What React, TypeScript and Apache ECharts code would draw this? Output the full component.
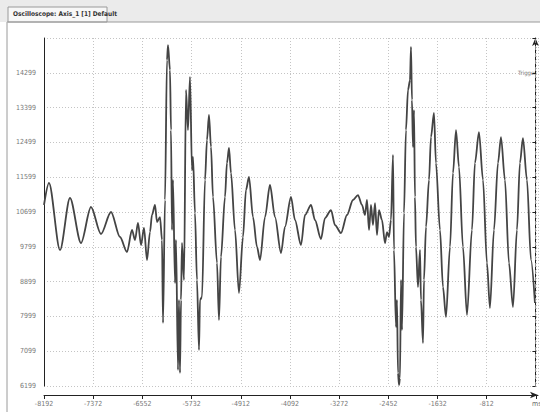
import React, { useEffect, useRef } from "react";
import * as echarts from "echarts";

// ---- data ----
const timeMs = [
  -8192, -8109, -7925, -7759, -7575, -7409, -7242, -7075, -6925, -6809,
  -6725, -6675, -6625, -6575, -6525, -6475, -6425, -6392, -6342, -6308,
  -6258, -6225, -6208, -6175, -6142, -6125, -6092, -6075, -6058, -6042,
  -6008, -5992, -5958, -5942, -5925, -5908, -5892, -5858, -5825, -5792,
  -5758, -5725, -5708, -5675, -5642, -5608, -5592, -5558, -5508, -5475,
  -5442, -5408, -5375, -5308, -5275, -5242, -5175, -5142, -5108, -5075,
  -5008, -4942, -4875, -4825, -4775, -4708, -4641, -4591, -4508, -4425,
  -4341, -4241, -4175, -4075, -4008, -3908, -3841, -3741, -3675, -3575,
  -3508, -3408, -3341, -3241, -3141, -3041, -2958, -2891, -2841, -2808,
  -2774, -2741, -2708, -2674, -2641, -2608, -2558, -2508, -2474, -2441,
  -2408, -2374, -2358, -2324, -2308, -2291, -2274, -2258, -2241, -2224,
  -2191, -2158, -2124, -2091, -2074, -2058, -2041, -2024, -2008, -1991,
  -1958, -1924, -1908, -1874, -1858, -1824, -1774, -1741, -1691, -1658,
  -1591, -1541, -1491, -1424, -1374, -1324, -1274, -1208, -1141, -1058,
  -1008, -941, -874, -808, -758, -691, -624, -574, -508, -441,
  -374, -308, -258, -208, -141, -74, -8,
];
const amplitude = [
  10880, 11449, 9716, 11061, 9897, 10828, 10130, 10699, 10052, 9664,
  10233, 9975, 10414, 9845, 10285, 9457, 10181, 10621, 10880, 10440,
  10569, 9975, 7828, 11009, 14629, 15017, 14371, 12819, 10233, 11526,
  8863, 9975, 6613, 8423, 6535, 8423, 9897, 8940, 13854, 12819,
  14190, 11785, 12121, 10673, 8940, 7130, 8423, 8501, 11526, 12561,
  13207, 12380, 11087, 9380, 7906, 9535, 11087, 11966, 12354, 11707,
  10233, 8604, 10052, 11268, 11604, 10569, 9794, 9457, 10569, 11397,
  10569, 9638, 10311, 11087, 10492, 9845, 10621, 10880, 10492, 10000,
  10543, 10750, 10362, 10156, 10621, 11009, 11138, 10880, 10621, 11009,
  10233, 10880, 10362, 10931, 10104, 10750, 10492, 9897, 10181, 10052,
  10492, 12173, 9716, 7725, 8423, 6535, 6225, 6406, 8940, 7647,
  10673, 12819, 13854, 14112, 14966, 13595, 12380, 13336, 11087, 9794,
  8759, 9716, 8423, 7311, 8940, 10311, 11526, 12638, 13259, 11966,
  10233, 8759, 7983, 9794, 11707, 12819, 11862, 9794, 8035, 10233,
  11966, 12767, 11526, 9380, 8216, 10233, 11966, 12638, 11526, 9380,
  8242, 10233, 11966, 12612, 11526, 9457, 8345,
];
const xTickStart = -8192;
const xTickStep = 820;
const xEnd = 43;
const yTickStart = 6199;
const yTickStep = 900;
const yEnd = 15199;
const triggerAt = 0;
const windowTitle = "Oscilloscope: Axis_1 [1] Default";
const triggerLabel = "Trigger";
const xUnit = "ms";

const FONT = "'Liberation Sans Narrow', 'DejaVu Sans Condensed', 'Liberation Sans', sans-serif";

export default function App() {
  const ref = useRef<HTMLDivElement>(null);
  useEffect(() => {
    const chart = echarts.init(ref.current as HTMLDivElement, null, { renderer: "svg" });
    const data = timeMs.map((t, i) => [t, amplitude[i]]);
    const gridLine = { show: true, lineStyle: { type: [1, 2] as any, color: "#c4c4c4", width: 1 } };
    chart.setOption({
      animation: false,
      backgroundColor: "#ffffff",
      textStyle: { fontFamily: FONT },
      grid: { left: 44, right: 2, top: 38, bottom: 26 },
      xAxis: {
        type: "value",
        min: xTickStart,
        max: xEnd,
        interval: xTickStep,
        position: "bottom",
        offset: 9,
        axisLine: { show: true, lineStyle: { color: "#222", width: 1 }, symbol: ["none", "arrow"], symbolSize: [5, 8] },
        axisTick: { show: true, length: 4, lineStyle: { color: "#222" } },
        axisLabel: {
          fontSize: 7,
          color: "#777",
          margin: 5,
          showMaxLabel: false,
          formatter: (v: number) => (v > -100 ? "" : String(Math.round(v))),
        },
        splitLine: gridLine,
      },
      yAxis: [
        {
          type: "value",
          min: yTickStart,
          max: yEnd,
          interval: yTickStep,
          offset: 5,
          axisLine: { show: true, lineStyle: { color: "#222", width: 1 }, symbol: ["none", "arrow"], symbolSize: [5, 8] },
          axisTick: { show: true, length: 3, lineStyle: { color: "#222" } },
          axisLabel: {
            fontSize: 7,
            color: "#777",
            margin: 3,
            formatter: (v: number) => (v > yEnd - 100 ? "" : String(Math.round(v))),
          },
          splitLine: gridLine,
        },
        {
          type: "value",
          min: yTickStart,
          max: yEnd,
          position: "left",
          axisLine: { show: true, lineStyle: { color: "#222", width: 1 } },
          axisTick: { show: false },
          axisLabel: { show: false },
          splitLine: { show: false },
        },
      ],
      series: [
        {
          type: "line",
          data,
          showSymbol: false,
          smooth: 0.3,
          smoothMonotone: "x",
          lineStyle: { color: "#444444", width: 1.8 },
          markLine: {
            silent: true,
            symbol: "none",
            label: { show: false },
            lineStyle: { type: [4, 3], color: "#8a8a8a", width: 1 },
            data: [{ xAxis: triggerAt }],
          },
        },
      ],
      graphic: [
        { type: "rect", shape: { x: 0, y: 0, width: 540, height: 22 }, style: { fill: "#ebebeb" }, silent: true },
        { type: "rect", shape: { x: 8, y: 7, width: 99, height: 15 }, style: { fill: "#f7f7f7", stroke: "#9a9a9a", lineWidth: 1 }, silent: true },
        {
          type: "text",
          x: 13,
          y: 10,
          style: { text: windowTitle, fontSize: 6.5, fontWeight: "bold", fill: "#333", fontFamily: FONT },
          silent: true,
        },
        { type: "line", shape: { x1: 7, y1: 22, x2: 540, y2: 22 }, style: { stroke: "#9a9a9a", lineWidth: 1 }, silent: true },
        { type: "line", shape: { x1: 7, y1: 22, x2: 7, y2: 412 }, style: { stroke: "#9a9a9a", lineWidth: 1 }, silent: true },
        {
          type: "text",
          x: 518,
          y: 69,
          style: { text: triggerLabel, fontSize: 6, fill: "#777", fontFamily: FONT },
          silent: true,
        },
        {
          type: "text",
          x: 532,
          y: 400,
          style: { text: xUnit, fontSize: 7, fill: "#666", fontFamily: FONT },
          silent: true,
        },
      ],
    });
    return () => chart.dispose();
  }, []);
  return <div ref={ref} style={{ position: "fixed", left: 0, top: 0, width: 540, height: 412 }} />;
}
